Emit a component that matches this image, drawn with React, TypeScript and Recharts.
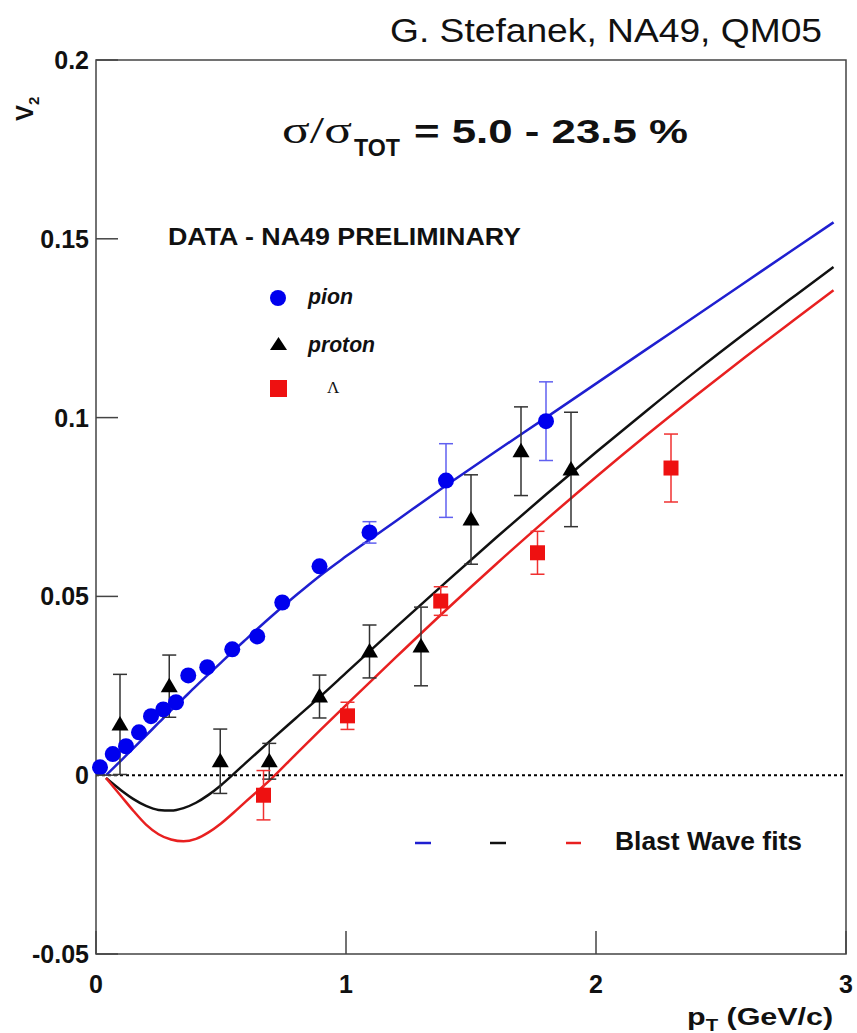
import React from "react";
import {
  ComposedChart,
  Line,
  Scatter,
  XAxis,
  YAxis,
  ErrorBar,
  ReferenceLine,
  ReferenceArea,
} from "recharts";

// ---------------- data ----------------
const pionPt = [0.016, 0.067, 0.12, 0.172, 0.22, 0.269, 0.32, 0.369, 0.445, 0.545, 0.645, 0.745, 0.894, 1.094, 1.4, 1.8];
const pionV2 = [0.0022, 0.0059, 0.0081, 0.012, 0.0165, 0.0184, 0.0204, 0.0279, 0.0302, 0.0352, 0.0388, 0.0483, 0.0584, 0.0679, 0.0824, 0.099];
const pionErr = [0, 0, 0, 0, 0, 0, 0, 0, 0, 0, 0, 0, 0, 0.003, 0.0103, 0.011];

const protonPt = [0.096, 0.293, 0.497, 0.693, 0.894, 1.094, 1.3, 1.5, 1.7, 1.9];
const protonV2 = [0.0142, 0.0249, 0.0039, 0.0039, 0.022, 0.0346, 0.036, 0.0715, 0.0906, 0.0855];
const protonErr = [0.014, 0.0087, 0.009, 0.005, 0.006, 0.0074, 0.011, 0.0125, 0.0124, 0.016];

const lambdaPt = [0.67, 1.006, 1.379, 1.766, 2.3];
const lambdaV2 = [-0.0056, 0.0166, 0.0487, 0.0622, 0.0859];
const lambdaErr = [0.0069, 0.0038, 0.004, 0.006, 0.0095];

const fitPt = [0.04, 0.1, 0.15, 0.2, 0.25, 0.3, 0.35, 0.4, 0.45, 0.5, 0.55, 0.6, 0.7, 0.8, 0.9, 1.0, 1.2, 1.4, 1.6, 1.8, 2.0, 2.2, 2.4, 2.6, 2.8, 2.95];
const fitPion = [0.0, 0.0041, 0.0076, 0.0111, 0.0146, 0.0181, 0.0215, 0.0249, 0.0282, 0.0315, 0.0348, 0.038, 0.0443, 0.0503, 0.056, 0.0612, 0.0711, 0.081, 0.0906, 0.1, 0.1095, 0.119, 0.1285, 0.138, 0.1475, 0.1546];
const fitProton = [-0.0008, -0.0042, -0.0067, -0.0086, -0.0097, -0.0099, -0.0092, -0.0077, -0.0055, -0.0028, 0.0003, 0.0035, 0.0098, 0.016, 0.0222, 0.0286, 0.0414, 0.054, 0.0664, 0.0785, 0.0903, 0.1018, 0.113, 0.1238, 0.1343, 0.1421];
const fitLambda = [-0.0008, -0.0058, -0.01, -0.0138, -0.0165, -0.018, -0.0185, -0.0178, -0.016, -0.0135, -0.0105, -0.0073, -0.0011, 0.0059, 0.0128, 0.0196, 0.033, 0.0462, 0.059, 0.0714, 0.0834, 0.095, 0.1062, 0.1171, 0.1277, 0.1356];

const xTicks = [0, 1, 2, 3];
const xTickLabels = ["0", "1", "2", "3"];
const yTicks = [-0.05, 0, 0.05, 0.1, 0.15, 0.2];
const yTickLabels = ["-0.05", "0", "0.05", "0.1", "0.15", "0.2"];

// ---------------- build series ----------------
const zip = (xs: number[], ys: number[], es?: number[]) =>
  xs.map((x, i) => ({ x, v2: ys[i], err: es ? es[i] : 0 }));

const pionData = zip(pionPt, pionV2, pionErr);
const protonData = zip(protonPt, protonV2, protonErr);
const lambdaData = zip(lambdaPt, lambdaV2, lambdaErr);
const fitPionData = zip(fitPt, fitPion);
const fitProtonData = zip(fitPt, fitProton);
const fitLambdaData = zip(fitPt, fitLambda);

const SANS = "'Liberation Sans', Arial, Helvetica, sans-serif";
const SERIF = "'Liberation Serif', 'Times New Roman', serif";

const BLUE = "#0000ee";
const RED = "#ee1111";
const BLACK = "#000000";

const circleShape = (p: any) => <circle cx={p.cx} cy={p.cy} r={8} fill={BLUE} />;
const triShape = (p: any) => (
  <polygon
    points={`${p.cx},${p.cy - 8.5} ${p.cx - 8.5},${p.cy + 6} ${p.cx + 8.5},${p.cy + 6}`}
    fill={BLACK}
  />
);
const squareShape = (p: any) => (
  <rect x={p.cx - 7.5} y={p.cy - 7.5} width={15} height={15} fill={RED} />
);

const XTick = (props: any) => {
  const { x, y, payload } = props;
  const idx = xTicks.indexOf(payload.value);
  return (
    <g>
      <line x1={x} x2={x} y1={y} y2={y - 23} stroke="#444" strokeWidth={1.5} />
      <text x={x} y={y + 39} textAnchor="middle" fontFamily={SANS} fontWeight="bold" fontSize={25} fill="#111">
        {xTickLabels[idx]}
      </text>
    </g>
  );
};

const YTick = (props: any) => {
  const { x, y, payload } = props;
  const idx = yTicks.indexOf(payload.value);
  const ax = x + 7;
  return (
    <g>
      <line x1={ax} x2={ax + 22} y1={y} y2={y} stroke="#444" strokeWidth={1.5} />
      <text x={x} y={y + 9} textAnchor="end" fontFamily={SANS} fontWeight="bold" fontSize={25} fill="#111">
        {yTickLabels[idx]}
      </text>
    </g>
  );
};

export default function App() {
  return (
    <div style={{ position: "absolute", left: 0, top: 0, width: 857, height: 1033, background: "#fff" }}>
      <ComposedChart width={857} height={1033} margin={{ top: 60, right: 11, bottom: 0, left: 0 }}>
        <XAxis
          type="number"
          dataKey="x"
          domain={[0, 3]}
          ticks={xTicks}
          height={79}
          tickSize={0}
          tickMargin={0}
          tickLine={false}
          axisLine={false}
          tick={<XTick />}
          interval={0}
        />
        <YAxis
          type="number"
          dataKey="v2"
          domain={[-0.05, 0.2]}
          ticks={yTicks}
          width={96}
          tickSize={0}
          tickMargin={7}
          tickLine={false}
          axisLine={false}
          tick={<YTick />}
          interval={0}
        />
        <ReferenceArea x1={0} x2={3} y1={-0.05} y2={0.2} fill="none" stroke="#444" strokeWidth={1.5} ifOverflow="visible" />
        <ReferenceLine y={0} stroke="#000" strokeWidth={2} strokeDasharray="3 3" />
        <Line data={fitPionData} dataKey="v2" type="monotone" stroke="#1f1fd0" strokeWidth={2.5} dot={false} isAnimationActive={false} />
        <Line data={fitProtonData} dataKey="v2" type="monotone" stroke="#111" strokeWidth={2.5} dot={false} isAnimationActive={false} />
        <Line data={fitLambdaData} dataKey="v2" type="monotone" stroke="#e82020" strokeWidth={2.5} dot={false} isAnimationActive={false} />
        <Scatter data={pionData} dataKey="v2" shape={circleShape} isAnimationActive={false}>
          <ErrorBar dataKey="err" direction="y" width={7} stroke="#6060f0" strokeWidth={1.5} />
        </Scatter>
        <Scatter data={protonData} dataKey="v2" shape={triShape} isAnimationActive={false}>
          <ErrorBar dataKey="err" direction="y" width={7} stroke="#333" strokeWidth={1.5} />
        </Scatter>
        <Scatter data={lambdaData} dataKey="v2" shape={squareShape} isAnimationActive={false}>
          <ErrorBar dataKey="err" direction="y" width={7} stroke="#f03030" strokeWidth={1.5} />
        </Scatter>
      </ComposedChart>

      <svg
        width={857}
        height={1033}
        style={{ position: "absolute", left: 0, top: 0, pointerEvents: "none" }}
      >
        {/* author line */}
        <text x={390} y={42} fontFamily={SANS} fontSize={33} fill="#111" textLength={432} lengthAdjust="spacingAndGlyphs">
          G. Stefanek, NA49, QM05
        </text>
        {/* title */}
        <text x={282} y={143} fontFamily={SERIF} fontSize={38} fill="#111" textLength={70} lengthAdjust="spacingAndGlyphs">
          σ/σ
        </text>
        <text x={354} y={156} fontFamily={SANS} fontWeight="bold" fontSize={23} fill="#111" textLength={46} lengthAdjust="spacingAndGlyphs">
          TOT
        </text>
        <text x={414} y={143} fontFamily={SANS} fontWeight="bold" fontSize={34} fill="#111" textLength={274} lengthAdjust="spacingAndGlyphs">
          = 5.0 - 23.5 %
        </text>
        {/* data legend */}
        <text x={168} y={245} fontFamily={SANS} fontWeight="bold" fontSize={23} fill="#111" textLength={353} lengthAdjust="spacingAndGlyphs">
          DATA - NA49 PRELIMINARY
        </text>
        <circle cx={278} cy={298} r={8} fill={BLUE} />
        <text x={308} y={304} fontFamily={SANS} fontWeight="bold" fontStyle="italic" fontSize={22} fill="#111" textLength={45} lengthAdjust="spacingAndGlyphs">
          pion
        </text>
        <polygon points="278.5,337 270,350 287,350" fill={BLACK} />
        <text x={308} y={352} fontFamily={SANS} fontWeight="bold" fontStyle="italic" fontSize={22} fill="#111" textLength={67} lengthAdjust="spacingAndGlyphs">
          proton
        </text>
        <rect x={270} y={380} width={17} height={17} fill={RED} />
        <text x={327} y={393} fontFamily={SERIF} fontSize={17} fill="#111">
          Λ
        </text>
        {/* fit legend */}
        <line x1={415} x2={431} y1={843} y2={843} stroke="#1f1fd0" strokeWidth={2.5} />
        <line x1={490} x2={506} y1={843} y2={843} stroke="#111" strokeWidth={2.5} />
        <line x1={566} x2={581} y1={843} y2={843} stroke="#e82020" strokeWidth={2.5} />
        <text x={615} y={850} fontFamily={SANS} fontWeight="bold" fontSize={25} fill="#111" textLength={187} lengthAdjust="spacingAndGlyphs">
          Blast Wave fits
        </text>
        {/* axis titles */}
        <text transform="translate(33,121) rotate(-90)" fontFamily={SANS} fontWeight="bold" fontSize={24} fill="#111">
          V<tspan dy={6} fontSize={15}>2</tspan>
        </text>
        <text transform="translate(687,1025) scale(1.27,1)" fontFamily={SANS} fontWeight="bold" fontSize={24} fill="#111">
          p<tspan dy={6} fontSize={16}>T</tspan>
          <tspan dy={-6}> (GeV/c)</tspan>
        </text>
      </svg>
    </div>
  );
}
